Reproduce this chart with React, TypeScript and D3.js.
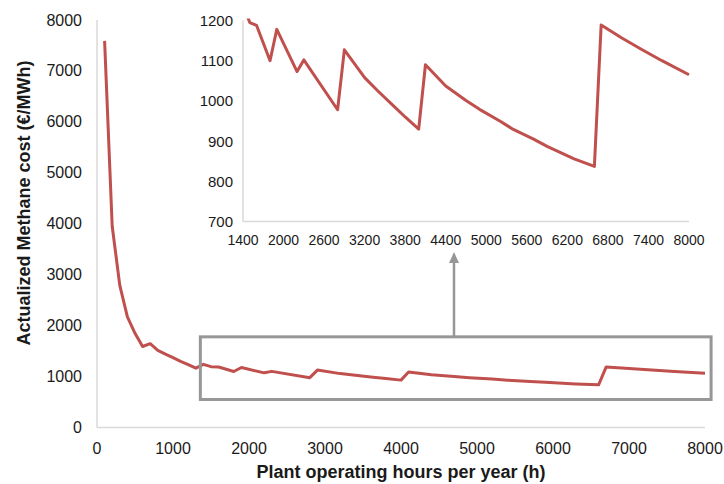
import React from "react";
import * as d3 from "d3";

const hours = [100, 200, 300, 400, 500, 600, 700, 800, 900, 1000, 1100, 1200, 1300, 1400, 1500, 1600, 1800, 1900, 2200, 2300, 2800, 2900, 3200, 3400, 3600, 3800, 4000, 4100, 4400, 4700, 4900, 5200, 5400, 5700, 5900, 6300, 6600, 6700, 7000, 7300, 7600, 8000];
const cost = [7590, 3950, 2790, 2170, 1850, 1590, 1645, 1515, 1440, 1370, 1300, 1235, 1165, 1240, 1195, 1188, 1100, 1178, 1073, 1102, 978, 1127, 1058, 1024, 992, 960, 930, 1090, 1037, 1001, 979, 950, 929, 905, 887, 856, 837, 1189, 1157, 1128, 1100, 1065];

const mainXTicks = [0, 1000, 2000, 3000, 4000, 5000, 6000, 7000, 8000];
const mainYTicks = [0, 1000, 2000, 3000, 4000, 5000, 6000, 7000, 8000];
const insetXTicks = [1400, 2000, 2600, 3200, 3800, 4400, 5000, 5600, 6200, 6800, 7400, 8000];
const insetYTicks = [700, 800, 900, 1000, 1100, 1200];

const zoomBox = { x0: 1340, x1: 8080, y0: 550, y1: 1780 };

const xTitle = "Plant operating hours per year (h)";
const yTitle = "Actualized Methane cost (€/MWh)";

const RED = "#C0504D";
const AXIS = "#D9D9D9";
const BOX = "#979797";
const FONT = "'Liberation Sans', Arial, sans-serif";

export default function App() {
  const pts = hours.map((h, i) => [h, cost[i]] as [number, number]);

  const x = d3.scaleLinear().domain([0, 8000]).range([97, 705]);
  const y = d3.scaleLinear().domain([0, 8000]).range([427.5, 20]);

  const ix = d3.scaleLinear().domain([1400, 8000]).range([243, 689]);
  const iy = d3.scaleLinear().domain([700, 1200]).range([221.5, 20.5]);

  const mainLine = d3.line<[number, number]>().x((d) => x(d[0])).y((d) => y(d[1]))(pts) || "";
  const insetLine = d3.line<[number, number]>().x((d) => ix(d[0])).y((d) => iy(d[1]))(pts) || "";

  const bx0 = x(zoomBox.x0) + 1.5;
  const bx1 = x(zoomBox.x1);
  const by0 = y(zoomBox.y1);
  const by1 = y(zoomBox.y0);
  const arrowX = 454;
  const arrowTip = 252;

  return (
    <svg width={724} height={484} style={{ position: "absolute", left: 0, top: 0, background: "#fff" }} fontFamily={FONT}>
      <defs>
        <clipPath id="insetClip">
          <rect x={243} y={iy(1200) - 2} width={ix(8000) - 243 + 6} height={iy(700) - iy(1200) + 2} />
        </clipPath>
      </defs>
      {/* main axes */}
      <line x1={x(0)} x2={x(0)} y1={y(8000)} y2={y(0)} stroke={AXIS} strokeWidth={1.5} />
      <line x1={x(0)} x2={x(8000)} y1={y(0)} y2={y(0)} stroke={AXIS} strokeWidth={1.5} />
      {mainYTicks.map((t) => (
        <text key={"my" + t} x={82} y={y(t)} textAnchor="end" dominantBaseline="central" fontSize={16} fill="#1a1a1a">{t}</text>
      ))}
      {mainXTicks.map((t) => (
        <text key={"mx" + t} x={x(t)} y={448} textAnchor="middle" dominantBaseline="central" fontSize={16} fill="#1a1a1a">{t}</text>
      ))}
      <text x={401} y={472} textAnchor="middle" dominantBaseline="central" fontSize={18} fontWeight="bold" fill="#1a1a1a">{xTitle}</text>
      <text transform={`translate(24,203) rotate(-90)`} textAnchor="middle" dominantBaseline="central" fontSize={18} fontWeight="bold" fill="#1a1a1a">{yTitle}</text>

      {/* main line */}
      <path d={mainLine} fill="none" stroke={RED} strokeWidth={3} strokeLinejoin="round" />

      {/* zoom box and arrow */}
      <rect x={bx0} y={by0} width={bx1 - bx0} height={by1 - by0} fill="none" stroke={BOX} strokeWidth={3} />
      <line x1={arrowX} x2={arrowX} y1={by0} y2={arrowTip + 9} stroke={BOX} strokeWidth={2.5} />
      <path d={`M${arrowX - 5},${arrowTip + 11} L${arrowX},${arrowTip} L${arrowX + 5},${arrowTip + 11} Z`} fill={BOX} />

      {/* inset */}
      <line x1={ix(1400)} x2={ix(1400)} y1={iy(1200)} y2={iy(700)} stroke={AXIS} strokeWidth={1.5} />
      <line x1={ix(1400)} x2={ix(8000)} y1={iy(700)} y2={iy(700)} stroke={AXIS} strokeWidth={1.5} />
      {insetYTicks.map((t) => (
        <text key={"iy" + t} x={233} y={iy(t)} textAnchor="end" dominantBaseline="central" fontSize={15} fill="#1a1a1a">{t}</text>
      ))}
      {insetXTicks.map((t) => (
        <text key={"ix" + t} x={ix(t)} y={240} textAnchor="middle" dominantBaseline="central" fontSize={14} fill="#1a1a1a">{t}</text>
      ))}
      <path d={insetLine} fill="none" stroke={RED} strokeWidth={3} strokeLinejoin="round" clipPath="url(#insetClip)" />
    </svg>
  );
}
